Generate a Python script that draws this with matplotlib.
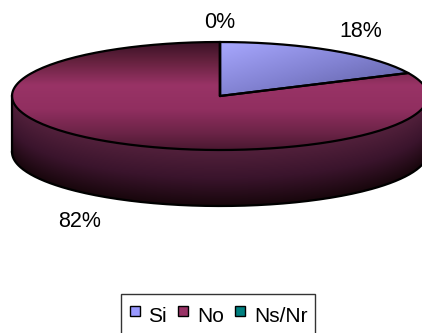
import numpy as np
import matplotlib
matplotlib.use("Agg")
import matplotlib.pyplot as plt
from matplotlib.patches import Polygon
from matplotlib.lines import Line2D
from matplotlib.colors import to_rgb

plt.rcParams['font.family'] = ['Liberation Sans', 'DejaVu Sans']

# Survey answers (percent)
categories = ['Si', 'No', 'Ns/Nr']
values = [18, 82, 0]
colors = ['#9999FF', '#993366', '#008080']

W, H = 422, 333
fig = plt.figure(figsize=(W / 100, H / 100), dpi=100)
ax = fig.add_axes([0, 0, 1, 1])
ax.set_xlim(0, W)
ax.set_ylim(H, 0)
ax.axis('off')

# 3-D pie geometry in pixel space
cx, cy, rx, ry, depth = 220.0, 96.0, 208.0, 54.0, 56.0

def pt(t, dz=0.0):
    r = np.radians(t)
    return cx + rx * np.cos(r), cy - ry * np.sin(r) + dz

def arc(t1, t2, dz=0.0, n=200):
    ts = np.linspace(t1, t2, n)
    r = np.radians(ts)
    return np.column_stack([cx + rx * np.cos(r), cy - ry * np.sin(r) + dz])

yy, xx = np.mgrid[0:H, 0:W] + 0.5

def lerp_cols(stops, f):
    pos = np.array([s[0] for s in stops])
    cols = np.array([to_rgb(s[1]) for s in stops])
    out = np.empty(f.shape + (3,))
    for k in range(3):
        out[..., k] = np.interp(f, pos, cols[:, k])
    return out

def gradient_fill(poly_xy, img, z):
    patch = Polygon(poly_xy, closed=True, facecolor='none', edgecolor='none')
    ax.add_patch(patch)
    im = ax.imshow(img, extent=(0, W, H, 0), origin='upper', zorder=z,
                   interpolation='bilinear')
    im.set_clip_path(patch)

# shading images for each face
dx = np.clip((xx - cx) / rx, -1, 1)
ytop = cy + ry * np.sqrt(1 - dx ** 2)
fside = np.clip((yy - ytop) / depth, 0, 1)
side_img = lerp_cols([(0, '#52203b'), (0.5, '#3a142c'), (1, '#17060b')], fside)

ftop = (yy - (cy - ry)) / (2 * ry)
no_top_img = lerp_cols([(0, '#3a1226'), (0.18, '#66223f'), (0.4, '#993366'),
                        (0.62, '#912f60'), (0.85, '#6a2346'), (1, '#4a1830')], ftop)

fsi = 0.5 * np.clip((yy - (cy - ry)) / ry, 0, 1) + 0.5 * np.clip((xx - cx) / (rx - 20), 0, 1)
si_img = lerp_cols([(0, '#a8a8ff'), (0.5, '#8282d2'), (1, '#5a5a9c')], fsi)

top_imgs = [si_img, no_top_img, None]

# wedge angles: start at 12 o'clock, go clockwise
total = float(sum(values))
bounds = []
start = 90.0
for v in values:
    end = start - 360.0 * v / total
    bounds.append((end, start))
    start = end

# side faces (front half only)
for (t1, t2), v in zip(bounds, values):
    if v <= 0:
        continue
    for lo, hi in [(-180, 0), (180, 360), (-540, -360)]:
        a, b = max(t1, lo), min(t2, hi)
        if b > a:
            poly = np.vstack([arc(a, b), arc(a, b, depth)[::-1]])
            gradient_fill(poly, side_img, 1)

# top faces
for (t1, t2), v, img in zip(bounds, values, top_imgs):
    if v <= 0:
        continue
    poly = np.vstack([[cx, cy], arc(t1, t2)])
    gradient_fill(poly, img, 2)

# outlines
lw = 1.6
ax.plot(*arc(0, 360).T, color='black', lw=lw, zorder=5)
ax.plot(*arc(-180, 0, depth).T, color='black', lw=lw, zorder=5)
for t in (180, 0):
    x0, y0 = pt(t)
    ax.plot([x0, x0], [y0, y0 + depth], color='black', lw=lw, zorder=5)
for (t1, t2), v in zip(bounds, values):
    for t in (t1, t2):
        x0, y0 = pt(t)
        ax.plot([cx, x0], [cy, y0], color='black', lw=lw, zorder=5,
                solid_capstyle='round')

# percentage labels just outside the rim
gap_x, gap_y = 8.0, 13.5
for (t1, t2), v in zip(bounds, values):
    tm = np.radians((t1 + t2) / 2)
    c, s = np.cos(tm), np.sin(tm)
    ex = cx + rx * c
    ey = cy - ry * s + (depth if s < 0 else 0)
    x = ex + gap_x * np.sign(c) * (abs(c) > 0.1)
    y = ey - gap_y * np.sign(s)
    ha = 'left' if c > 0.1 else ('right' if c < -0.1 else 'center')
    va = 'baseline' if s > 0 else 'top'
    ax.text(x, y, f'{v}%', ha=ha, va=va, fontsize=15.5, zorder=6)

handles = [Line2D([], [], linestyle='none', marker='s', markersize=7.5,
                  markerfacecolor=c, markeredgecolor='black', markeredgewidth=1.0)
           for c in colors]
leg = fig.legend(handles, categories, loc='upper left', ncol=3,
                 bbox_to_anchor=(121 / W, 1 - 294 / H), borderaxespad=0,
                 fontsize=15, frameon=True, fancybox=False,
                 handlelength=0.6, handleheight=1.6, handletextpad=0.35,
                 columnspacing=0.5, borderpad=0.35)
leg.get_frame().set_edgecolor('black')
leg.get_frame().set_linewidth(1.0)

fig.savefig('out.png', dpi=100)
